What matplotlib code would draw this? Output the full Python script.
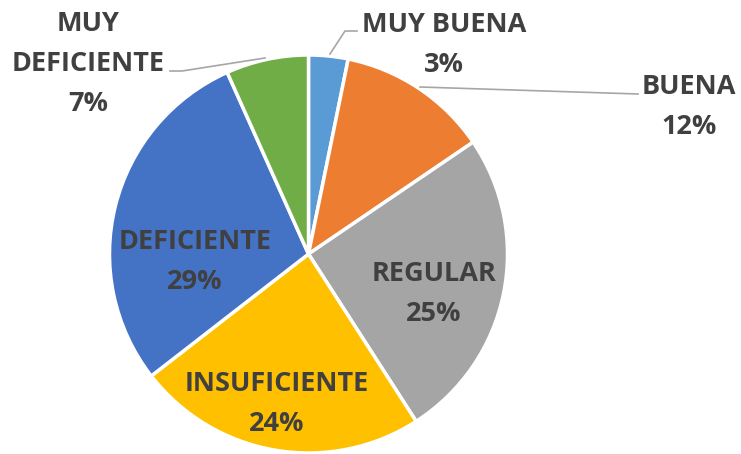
import matplotlib
matplotlib.use("Agg")
import matplotlib.pyplot as plt

categories = ["MUY BUENA", "BUENA", "REGULAR", "INSUFICIENTE", "DEFICIENTE", "MUY\nDEFICIENTE"]
values = [3.2, 12.3, 25.4, 23.6, 28.8, 6.7]
colors = ["#5B9BD5", "#ED7D31", "#A5A5A5", "#FFC000", "#4472C4", "#70AD47"]

W, H = 741, 454
fig = plt.figure(figsize=(W / 100, H / 100), dpi=100)
ax = fig.add_axes([0, 0, 1, 1])

def Y(ypix):
    return H - ypix

cx, cy, r = 308.5, 254, 199
ax.pie(values, colors=colors, startangle=90, counterclock=False,
       center=(cx, Y(cy)), radius=r, frame=True,
       wedgeprops=dict(edgecolor="white", linewidth=2.5))
ax.set_xlim(0, W)
ax.set_ylim(0, H)
ax.set_aspect("equal")
ax.axis("off")

labels = [f"{c}\n{v:.0f}%" for c, v in zip(categories, values)]
label_pos = [(444, 45), (689, 107), (434, 294), (277, 404), (195, 262), (88, 64)]
font = dict(family="Open Sans", fontweight="bold", fontsize=19.5, color="#404040",
            ha="center", va="center", linespacing=1.7)
for lab, (x, y) in zip(labels, label_pos):
    ax.text(x, Y(y), lab, **font)

line_kw = dict(color="#A6A6A6", linewidth=1.2)
leaders = [
    ([330, 345, 357], [54, 31, 31]),
    ([420, 638], [87, 94]),
    ([265, 182, 170], [58, 71, 71]),
]
for xs, ys in leaders:
    ax.plot(xs, [Y(v) for v in ys], **line_kw)

fig.savefig("out.png", dpi=100)
